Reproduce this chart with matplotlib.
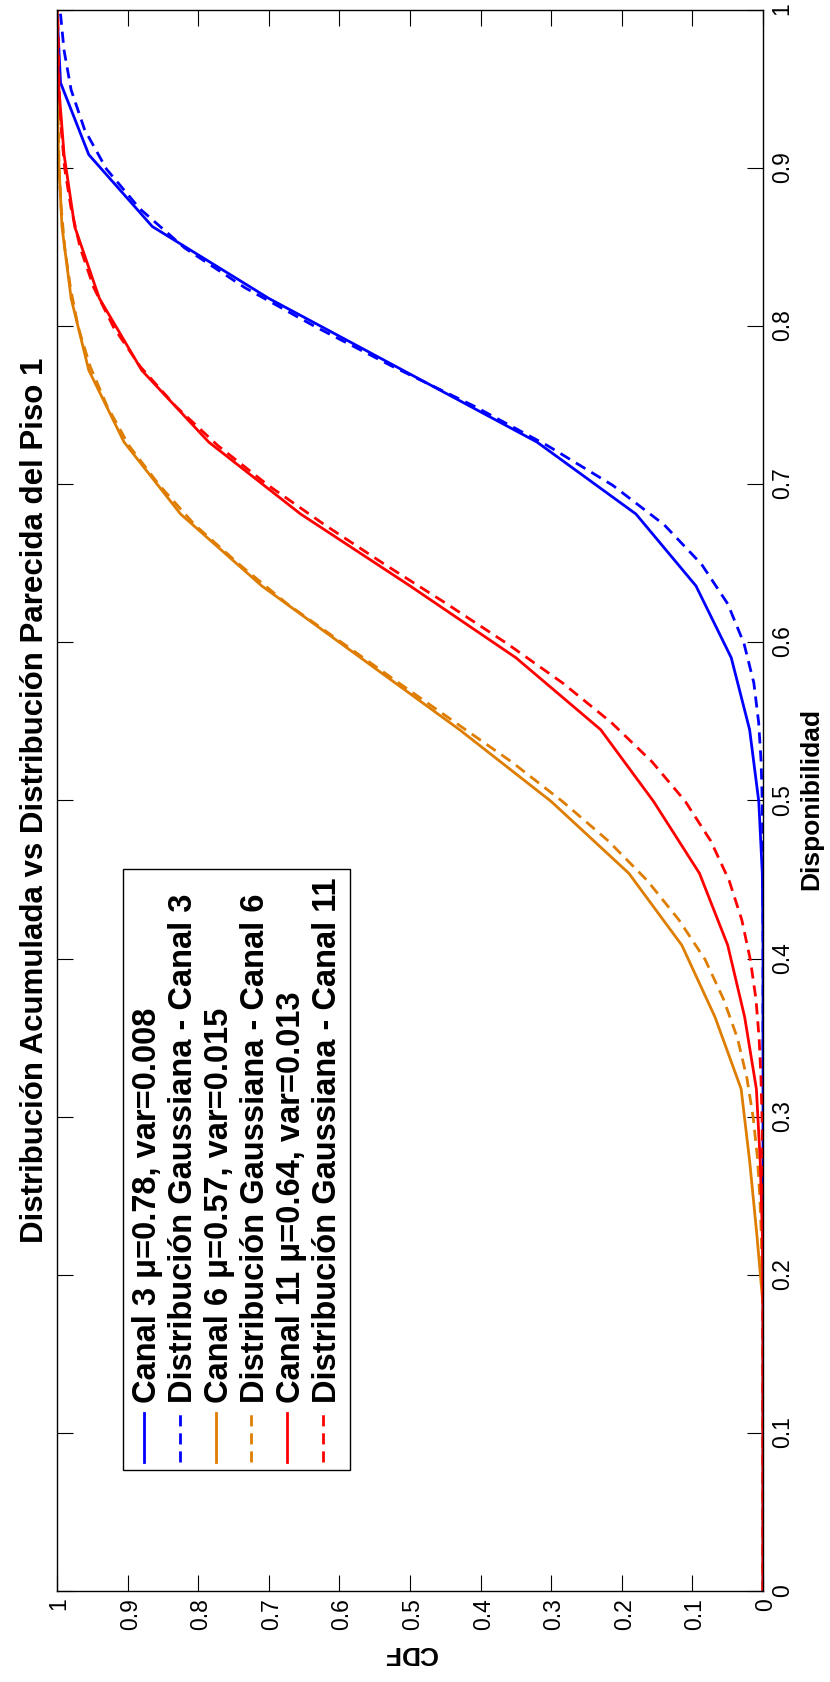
import numpy as np
import matplotlib
matplotlib.use("Agg")
import matplotlib.pyplot as plt

# Datos empíricos (muestreados cada 1/22 de disponibilidad)
disp_emp = [k / 22 for k in range(23)]
canal3 = [0, 0, 0, 0, 0, 0, 0, 0, 0, 0, 0.001, 0.006, 0.019, 0.045, 0.095, 0.18,
          0.32, 0.51, 0.70, 0.865, 0.955, 0.995, 1.0]
canal6 = [0, 0, 0, 0, 0, 0.009, 0.019, 0.031, 0.068, 0.115, 0.19, 0.30, 0.43, 0.57,
          0.71, 0.825, 0.905, 0.955, 0.98, 0.993, 0.998, 1.0, 1.0]
canal11 = [0, 0, 0, 0, 0, 0.001, 0.004, 0.0094, 0.026, 0.05, 0.09, 0.155, 0.23, 0.35,
           0.50, 0.655, 0.785, 0.88, 0.94, 0.975, 0.99, 0.998, 1.0]

# Distribuciones gaussianas (paso 0.025)
disp_gauss = [k * 0.025 for k in range(41)]
gauss3 = [0] * 18 + [0.0001, 0.0004, 0.0011, 0.0027, 0.0062, 0.013, 0.027, 0.05, 0.087,
                     0.14, 0.213, 0.305, 0.409, 0.524, 0.633, 0.734, 0.819, 0.883, 0.93,
                     0.961, 0.98, 0.99, 0.9955]
gauss6 = [0] * 8 + [0.0013, 0.0024, 0.0045, 0.008, 0.0139, 0.0228, 0.036, 0.056, 0.082,
                    0.119, 0.164, 0.219, 0.284, 0.356, 0.436, 0.516, 0.595, 0.674, 0.742,
                    0.805, 0.855, 0.898, 0.929, 0.953, 0.97, 0.981, 0.989, 0.994, 0.997,
                    0.998, 0.999, 1.0, 1.0]
gauss11 = [0] * 10 + [0.0003, 0.0007, 0.0014, 0.0029, 0.0055, 0.01, 0.018, 0.03, 0.048,
                      0.074, 0.11, 0.157, 0.215, 0.284, 0.363, 0.448, 0.536, 0.621, 0.701,
                      0.772, 0.832, 0.882, 0.92, 0.948, 0.967, 0.98, 0.989, 0.994, 0.997,
                      0.998, 0.999]

etiquetas = [
    "Canal 3 μ=0.78, var=0.008",
    "Distribución Gaussiana - Canal 3",
    "Canal 6 μ=0.57, var=0.015",
    "Distribución Gaussiana - Canal 6",
    "Canal 11 μ=0.64, var=0.013",
    "Distribución Gaussiana - Canal 11",
]
azul = "#0000ff"
naranja = "#de7d00"
rojo = "#ff0000"

plt.rcParams["font.family"] = ["Liberation Sans", "DejaVu Sans"]

# La figura original está girada: se dibuja apaisada y luego se rota 90°
fig = plt.figure(figsize=(16.82, 8.30), dpi=100)
ax = fig.add_axes([0.0535, 0.0807, 0.94, 0.8506])

lw = 2.0
dash = (0, (4, 2.5))
ax.plot(disp_emp, canal3, color=azul, lw=lw, label=etiquetas[0])
ax.plot(disp_gauss, gauss3, color=azul, lw=lw, ls=dash, label=etiquetas[1])
ax.plot(disp_emp, canal6, color=naranja, lw=lw, label=etiquetas[2])
ax.plot(disp_gauss, gauss6, color=naranja, lw=lw, ls=dash, label=etiquetas[3])
ax.plot(disp_emp, canal11, color=rojo, lw=lw, label=etiquetas[4])
ax.plot(disp_gauss, gauss11, color=rojo, lw=lw, ls=dash, label=etiquetas[5])

ax.set_xlim(0, 1)
ax.set_ylim(0, 1)
ticks = np.arange(0, 1.01, 0.1)
ax.set_xticks(ticks)
ax.set_yticks(ticks)
tick_lbl = ["0"] + [f"{t:.1f}" for t in ticks[1:-1]] + ["1"]
ax.set_xticklabels(tick_lbl)
ax.set_yticklabels(tick_lbl)
ax.tick_params(direction="in", top=True, right=True, length=11.5, width=0.8,
               labelsize=16.5, pad=6)
for s in ax.spines.values():
    s.set_linewidth(1.0)

ax.set_xlabel("Disponibilidad", fontsize=19, fontweight="bold", labelpad=4)
ax.set_ylabel("CDF", fontsize=19, fontweight="bold", labelpad=8)
ax.set_title("Distribución Acumulada vs Distribución Parecida del Piso 1",
             fontsize=22.5, fontweight="bold", pad=11)

leg = ax.legend(loc="upper left", bbox_to_anchor=(0.0765, 0.9065),
                prop={"weight": "bold", "size": 23.5}, handlelength=1.5,
                handletextpad=0.3, labelspacing=0.15, borderpad=0.25,
                borderaxespad=0, fancybox=False, framealpha=1)
leg.get_frame().set_edgecolor("black")
leg.get_frame().set_linewidth(1.0)

fig.canvas.draw()
img = np.asarray(fig.canvas.buffer_rgba())
img = np.rot90(img, k=1)
plt.imsave("out.png", np.ascontiguousarray(img))
plt.close(fig)
